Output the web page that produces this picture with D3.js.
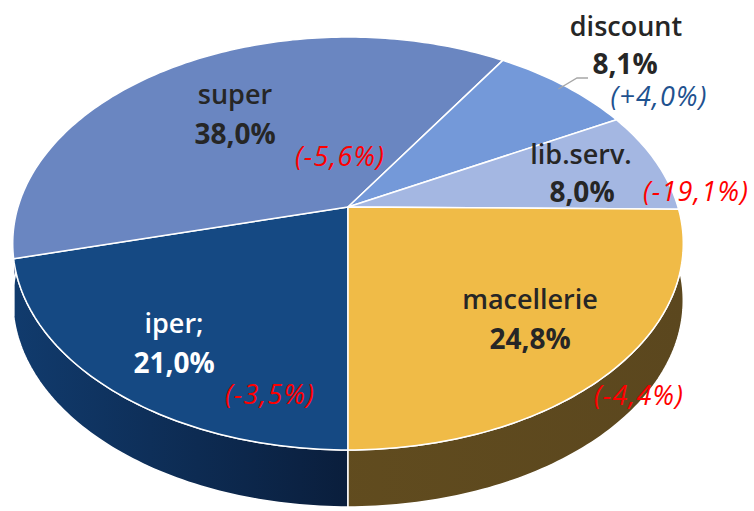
<!DOCTYPE html>
<html>
<head>
<meta charset="utf-8">
<script src="https://cdn.jsdelivr.net/npm/d3@7"></script>
<style>
  body { margin: 0; background: #fff; }
  text { font-family: "Open Sans", "Noto Sans", sans-serif; }
</style>
</head>
<body>
<script>
// slice data, clockwise from 6 o'clock
var categories = ['iper;', 'super', 'discount', 'lib.serv.', 'macellerie'];
var shares = [21.0, 38.0, 8.1, 8.0, 24.8];
var changes = ['(-3,5%)', '(-5,6%)', '(+4,0%)', '(-19,1%)', '(-4,4%)'];

var topColors = ['#154983', '#6a86c1', '#7499d9', '#a4b7e2', '#f0bb47'];
var sideColors = [['#113c6f', '#0a1e3c'], ['#3f5686', '#34486f'], ['#4d6aa0', '#4d6aa0'],
                  ['#7585a8', '#7585a8'], ['#66501f', '#5a461e']];
var nameColors = ['#ffffff', '#262626', '#262626', '#262626', '#262626'];
var changeColors = ['#ff0000', '#ff0000', '#1f528f', '#ff0000', '#ff0000'];

// label anchors (centre of each text line)
var labelAt = {
  'iper;':      {name: [174, 333], value: [174, 373], change: [270, 404]},
  'super':      {name: [235, 104], value: [235, 144], change: [340, 166]},
  'discount':   {name: [626, 36],  value: [625, 74],  change: [659, 106]},
  'lib.serv.':  {name: [581, 164], value: [582, 202], change: [696, 201]},
  'macellerie': {name: [530, 309], value: [530, 349], change: [639, 405]}
};

var width = 754, height = 511;
var geo = {cx: 348, cy: 207, A: 200, B: 330, k: 0.1767, depth: 57};

var svg = d3.select('body').append('svg')
  .attr('width', width)
  .attr('height', height);

// perspective projection of a point on the unit disc (d3 angle, clockwise from 12)
function proj(a, r, dy) {
  var u = r * Math.sin(a), v = r * Math.cos(a);
  var w = 1 + geo.k * v;
  return [geo.cx + geo.B * u / w, geo.cy - geo.A * v / w + (dy || 0)];
}

function arcPoints(a0, a1, dy) {
  var n = Math.max(2, Math.ceil(Math.abs(a1 - a0) / (Math.PI / 180)));
  return d3.range(n + 1).map(function(i) {
    return proj(a0 + (a1 - a0) * i / n, 1, dy);
  });
}

var line = d3.line();

var pie = d3.pie().sort(null).value(function(d) { return d; })
  .startAngle(Math.PI).endAngle(3 * Math.PI);
var arcs = pie(shares);

var defs = svg.append('defs');
arcs.forEach(function(d, i) {
  var g = defs.append('linearGradient')
    .attr('id', 'side' + i)
    .attr('gradientUnits', 'userSpaceOnUse')
    .attr('x1', 0).attr('x2', i === 0 ? geo.cx : width)
    .attr('y1', 0).attr('y2', 0);
  g.append('stop').attr('offset', 0).attr('stop-color', sideColors[i][0]);
  g.append('stop').attr('offset', 1).attr('stop-color', sideColors[i][1]);
});

// side walls: only the front half (90deg..270deg, mod 360)
var sides = [];
arcs.forEach(function(d, i) {
  [Math.PI / 2, 5 * Math.PI / 2].forEach(function(lo) {
    var b0 = Math.max(d.startAngle, lo), b1 = Math.min(d.endAngle, lo + Math.PI);
    if (b1 > b0) sides.push({i: i, b0: b0, b1: b1});
  });
});

svg.append('g').selectAll('path')
  .data(sides)
  .enter()
  .append('path')
  .attr('d', function(s) {
    var pts = arcPoints(s.b0, s.b1, 0).concat(arcPoints(s.b1, s.b0, geo.depth));
    return line(pts) + 'Z';
  })
  .attr('fill', function(s) { return 'url(#side' + s.i + ')'; })
  .attr('stroke', '#fff')
  .attr('stroke-width', 1.5)
  .attr('stroke-linejoin', 'round');

// top faces
svg.append('g').selectAll('path')
  .data(arcs)
  .enter()
  .append('path')
  .attr('d', function(d) {
    var pts = [[geo.cx, geo.cy]].concat(arcPoints(d.startAngle, d.endAngle, 0));
    return line(pts) + 'Z';
  })
  .attr('fill', function(d, i) { return topColors[i]; })
  .attr('stroke', '#fff')
  .attr('stroke-width', 1.5)
  .attr('stroke-linejoin', 'round');

// leader line for discount
var dIdx = categories.indexOf('discount');
var dMid = (arcs[dIdx].startAngle + arcs[dIdx].endAngle) / 2;
var p0 = proj(dMid, 0.97, 0);
var lv = labelAt['discount'].value;
svg.append('path')
  .attr('d', line([p0, [lv[0] - 48, lv[1] + 4], [lv[0] - 37, lv[1] + 4]]))
  .attr('fill', 'none')
  .attr('stroke', '#a6a6a6')
  .attr('stroke-width', 1.3);

// labels
var lab = svg.append('g').selectAll('g')
  .data(categories)
  .enter()
  .append('g');

lab.append('text')
  .attr('x', function(c) { return labelAt[c].name[0]; })
  .attr('y', function(c) { return labelAt[c].name[1]; })
  .attr('text-anchor', 'middle')
  .attr('font-size', '27px')
  .attr('font-weight', 600)
  .attr('fill', function(c, i) { return nameColors[i]; })
  .text(function(c) { return c; });

lab.append('text')
  .attr('x', function(c) { return labelAt[c].value[0]; })
  .attr('y', function(c) { return labelAt[c].value[1]; })
  .attr('text-anchor', 'middle')
  .attr('font-size', '28px')
  .attr('font-weight', 700)
  .attr('fill', function(c, i) { return nameColors[i]; })
  .text(function(c, i) { return d3.format('.1f')(shares[i]).replace('.', ',') + '%'; });

lab.append('text')
  .attr('x', function(c) { return labelAt[c].change[0]; })
  .attr('y', function(c) { return labelAt[c].change[1]; })
  .attr('text-anchor', 'middle')
  .attr('font-size', '27px')
  .attr('font-style', 'italic')
  .attr('letter-spacing', '1.2px')
  .attr('fill', function(c, i) { return changeColors[i]; })
  .text(function(c, i) { return changes[i]; });
</script>
</body>
</html>
